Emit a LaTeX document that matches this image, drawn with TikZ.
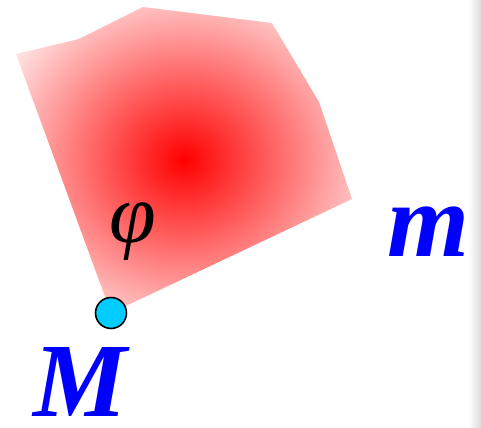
\documentclass[tikz,border=0pt]{standalone}
\usepackage{fontspec}
\setmainfont{Liberation Serif}
\usetikzlibrary{positioning}
\definecolor{dot-cyan}{HTML}{00CCFF}
\definecolor{label-blue}{HTML}{0000FF}
\pgfdeclareradialshading{redglow}{\pgfpoint{0bp}{0bp}}{color(0bp)=(red); color(34bp)=(white); color(50bp)=(white)}

\begin{document}
\begin{tikzpicture}[
    x=0.02cm, y=-0.02cm,
    point/.style={circle, draw=black, line width=0.9pt, fill=dot-cyan, minimum size=0.62cm, inner sep=0pt},
    biglabel/.style={text=label-blue, font=\fontsize{60}{60}\selectfont\bfseries\itshape, inner sep=0pt, anchor=base},
    anglelabel/.style={text=black, font=\fontsize{48}{48}\selectfont\itshape, inner sep=0pt}
]
    \useasboundingbox (0,0) rectangle (481,428);
    % window edge
    \shade[left color=white, right color=black!14] (468,0) rectangle (481,428);
    % shaded region
    \shade[shading=redglow] (16,54) -- (79,39) -- (143,7) -- (272,23) -- (319,102)
        -- (352,199) -- (111,313) -- cycle;
    \node[point] (dot) at (111,313) {};
    \node[anglelabel] (phi) at (133,232) {φ};
    \node[biglabel] (bigM) at (80,417) {M};
    \node[biglabel] (smallm) at (428,257) {m};
\end{tikzpicture}
\end{document}
